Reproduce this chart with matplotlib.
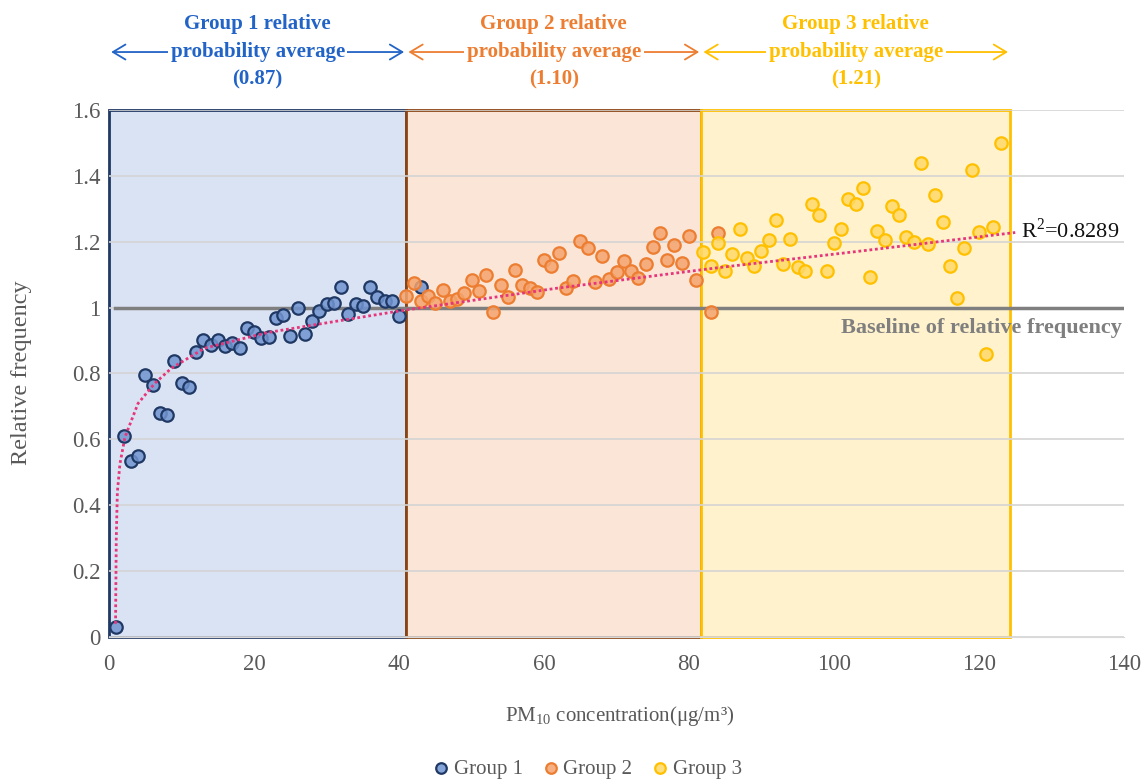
import matplotlib
matplotlib.use("Agg")
import matplotlib.pyplot as plt
from matplotlib.colors import to_rgba
from matplotlib.patches import Rectangle

plt.rcParams["font.family"] = ["Liberation Serif", "DejaVu Serif"]
plt.rcParams["mathtext.fontset"] = "custom"
plt.rcParams["mathtext.rm"] = "Liberation Serif"

# relative frequency per PM10 concentration bin
group1_x = list(range(1, 41)) + [43]
group1_y = [0.03, 0.61, 0.535, 0.55, 0.795, 0.765, 0.68, 0.675, 0.837, 0.77,
            0.758, 0.865, 0.902, 0.886, 0.902, 0.884, 0.893, 0.878, 0.938, 0.926,
            0.907, 0.91, 0.969, 0.979, 0.913, 1.0, 0.92, 0.958, 0.991, 1.01,
            1.015, 1.064, 0.981, 1.01, 1.006, 1.064, 1.033, 1.019, 1.019, 0.974,
            1.064]

group2_x = list(range(41, 82)) + [83, 84]
group2_y = [1.036, 1.076, 1.021, 1.036, 1.013, 1.052, 1.021, 1.026, 1.043, 1.084,
            1.049, 1.1, 0.988, 1.07, 1.031, 1.114, 1.07, 1.06, 1.046, 1.144,
            1.125, 1.167, 1.061, 1.08, 1.202, 1.182, 1.078, 1.158, 1.086, 1.107,
            1.141, 1.11, 1.091, 1.132, 1.183, 1.226, 1.146, 1.189, 1.134, 1.216,
            1.085, 0.988, 1.228]

group3_x = list(range(82, 124))
group3_y = [1.17, 1.127, 1.195, 1.111, 1.163, 1.238, 1.15, 1.125, 1.172, 1.206,
            1.265, 1.133, 1.209, 1.122, 1.111, 1.314, 1.282, 1.11, 1.195, 1.239,
            1.33, 1.316, 1.363, 1.092, 1.233, 1.205, 1.309, 1.28, 1.214, 1.198,
            1.438, 1.193, 1.342, 1.26, 1.127, 1.029, 1.181, 1.418, 1.23, 0.858,
            1.246, 1.499]

# fitted trend curve (R2 = 0.8289)
trend_x = [0.9, 1.0, 1.15, 1.5, 2.2, 4.0, 6.3, 8.6, 13.2, 21.8, 30.9, 40.1,
           61.8, 84.3, 103, 125]
trend_y = [0.04, 0.3, 0.44, 0.525, 0.607, 0.709, 0.77, 0.816, 0.877, 0.924,
           0.957, 0.99, 1.059, 1.122, 1.17, 1.228]

group_bounds = [0, 41, 81.7, 124.3]
group_means = ["0.87", "1.10", "1.21"]
group_names = ["Group 1", "Group 2", "Group 3"]
baseline = 1.0
r2_text = r"R$^{\mathregular{2}}$=0.8289"

fill_colors = ["#DAE3F3", "#FBE5D6", "#FFF2CC"]
edge_colors = ["#203864", "#8B4513", "#FFC000"]
text_colors = ["#2163C6", "#ED7D31", "#FFC000"]
marker_faces = ["#7094D0", "#F4A46E", "#FFD966"]
marker_edges = ["#1F3864", "#ED7D31", "#FFC000"]

fig = plt.figure(figsize=(11.44, 7.79), dpi=100)
ax = fig.add_axes([0.0953, 0.1823, 0.8872, 0.6765])
ax.set_xlim(0, 140)
ax.set_ylim(0, 1.6)

# shaded group regions
for i in range(3):
    ax.add_patch(Rectangle((group_bounds[i], 0), group_bounds[i + 1] - group_bounds[i], 1.6,
                           facecolor=fill_colors[i], edgecolor=edge_colors[i],
                           linewidth=2, zorder=0.2, clip_on=False))

ax.set_yticks([0, 0.2, 0.4, 0.6, 0.8, 1.0, 1.2, 1.4, 1.6])
ax.set_yticklabels(["0", "0.2", "0.4", "0.6", "0.8", "1", "1.2", "1.4", "1.6"])
ax.set_xticks(range(0, 141, 20))
ax.yaxis.grid(True, color="#D4D4D4", linewidth=1.2)
ax.set_axisbelow(True)
ax.tick_params(length=0, labelsize=16.5, labelcolor="#595959")
ax.tick_params(axis="x", pad=12)
ax.tick_params(axis="y", pad=6)
for side in ["top", "right", "left"]:
    ax.spines[side].set_visible(False)
ax.spines["bottom"].set_color("#D9D9D9")

# baseline
ax.axhline(baseline, xmin=0.8 / 140, xmax=139.7 / 140, color="#7F7F7F", linewidth=2.5, zorder=2)
ax.text(139.7, baseline - 0.062, "Baseline of relative frequency", ha="right", va="center",
        fontsize=16, fontweight="bold", color="#7F7F7F")

# trend line
ax.plot(trend_x, trend_y, linestyle=(0, (1, 1)), color="#E6357A", linewidth=2, zorder=4)
ax.text(125.8, 1.235, r2_text, ha="left", va="center", fontsize=16, color="#111111")

series = [(group1_x, group1_y), (group2_x, group2_y), (group3_x, group3_y)]
handles = []
for i, (xs, ys) in enumerate(series):
    h = ax.scatter(xs, ys, s=80, facecolors=[to_rgba(marker_faces[i], 0.85)],
                   edgecolors=marker_edges[i], linewidths=1.6, zorder=3 + i * 0.1,
                   label=group_names[i])
    handles.append(h)

# group headers with range arrows
for i in range(3):
    left, right = group_bounds[i], group_bounds[i + 1]
    mid = (left + right) / 2
    ax.annotate("", xy=(right - 0.3, 1.776), xytext=(left + 0.3, 1.776),
                annotation_clip=False,
                arrowprops=dict(arrowstyle="<->,head_length=0.5,head_width=0.3",
                                color=text_colors[i], lw=1.3, shrinkA=0, shrinkB=0,
                                mutation_scale=18))
    ax.text(mid, 1.861, f"Group {i + 1} relative", ha="center", va="center",
            fontsize=15, fontweight="bold", color=text_colors[i], clip_on=False)
    ax.text(mid, 1.776, "probability average", ha="center", va="center",
            fontsize=15, fontweight="bold", color=text_colors[i], clip_on=False,
            bbox=dict(facecolor="white", edgecolor="none", pad=2))
    ax.text(mid, 1.694, f"({group_means[i]})", ha="center", va="center",
            fontsize=15, fontweight="bold", color=text_colors[i], clip_on=False)

fig.text(22 / 1144, 1 - 373 / 779, "Relative frequency", rotation=90, ha="center",
         va="center", fontsize=17.5, color="#595959")
fig.text(620 / 1144, 1 - 716 / 779,
         r"PM$_{\mathregular{10}}$ concentration($\mathregular{\mu}$g/m³)",
         ha="center", va="center", fontsize=15, color="#595959")

fig.legend(handles=handles, loc="lower center", bbox_to_anchor=(0.513, -0.024), ncol=3,
           frameon=False, fontsize=15, markerscale=0.85, handlelength=0.9,
           handletextpad=0.15, columnspacing=0.9, labelcolor="#595959")

fig.savefig("out.png", dpi=100)
